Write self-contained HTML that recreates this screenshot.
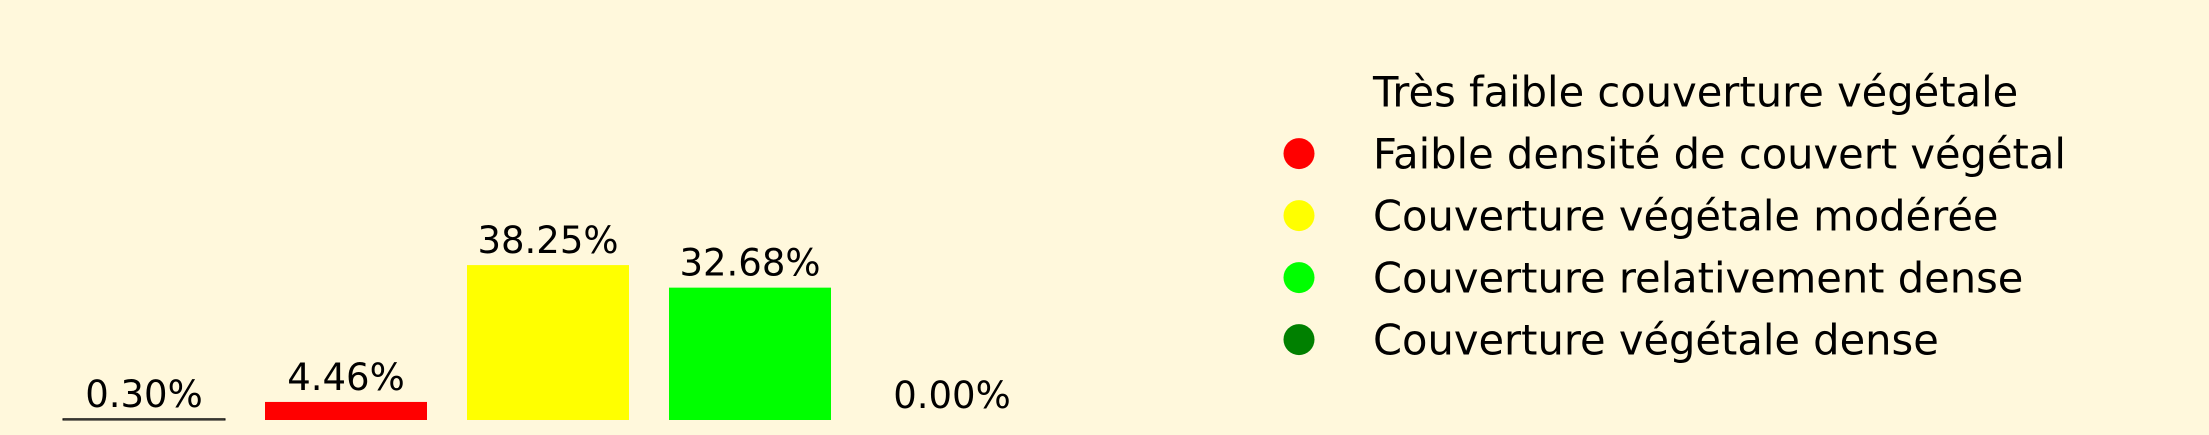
<!DOCTYPE html>
<html><head><meta charset="utf-8"><style>
html,body{margin:0;padding:0;background:#fff8dc;}
svg{display:block;font-family:"DejaVu Sans","Liberation Sans",sans-serif;}
</style></head><body>
<svg id="chart" width="2209" height="435" viewBox="0 0 2209 435" xmlns="http://www.w3.org/2000/svg">
<rect x="0" y="0" width="2209" height="435" fill="#fff8dc"/>
<g id="bars"></g>
<g id="legend"></g>
</svg>
<script>
const categories = ["Très faible couverture végétale","Faible densité de couvert végétal","Couverture végétale modérée","Couverture relativement dense","Couverture végétale dense"];
const values = [0.30, 4.46, 38.25, 32.68, 0.00];
const labels = ["0.30%","4.46%","38.25%","32.68%","0.00%"];
const colors = ["#fff8dc","#ff0000","#ffff00","#00ff00","#008000"];

const NS = "http://www.w3.org/2000/svg";
const baseY = 420, pxPerUnit = 4.05, x0 = 63, step = 202, barW = 162;
const xPos = i => x0 + i * step;
const yPos = v => baseY - v * pxPerUnit;
const bars = document.getElementById('bars');
values.forEach((v, i) => {
  const r = document.createElementNS(NS, 'rect');
  
  
  r.setAttribute('x', xPos(i));
  r.setAttribute('y', yPos(v));
  r.setAttribute('width', barW);
  r.setAttribute('height', Math.max(v * pxPerUnit, 0));
  r.setAttribute('fill', colors[i]);
  if (i === 0) { r.setAttribute('stroke', '#000'); r.setAttribute('stroke-width', '1'); }
  bars.appendChild(r);
  const t = document.createElementNS(NS, 'text');
  
  
  t.setAttribute('x', xPos(i) + barW / 2);
  t.setAttribute('y', yPos(v) - 12);
  t.setAttribute('text-anchor', 'middle');
  t.setAttribute('font-size', '37');
  t.setAttribute('fill', '#000');
  t.textContent = labels[i];
  bars.appendChild(t);
});
const legend = document.getElementById('legend');
categories.forEach((c, i) => {
  const cy = 91.6 + i * 62;
  const g = document.createElementNS(NS, 'g');
  
  
  const e = document.createElementNS(NS, 'ellipse');
  
  
  e.setAttribute('cx', 1299); e.setAttribute('cy', cy);
  e.setAttribute('rx', 15.5); e.setAttribute('ry', 15.5);
  e.setAttribute('fill', colors[i]);
  g.appendChild(e);
  const t = document.createElementNS(NS, 'text');
  
  
  t.setAttribute('x', 1373); t.setAttribute('y', cy + 15);
  t.setAttribute('font-size', '41.6');
  t.setAttribute('fill', '#000');
  t.textContent = c;
  g.appendChild(t);
  legend.appendChild(g);
});
</script>
</body></html>
